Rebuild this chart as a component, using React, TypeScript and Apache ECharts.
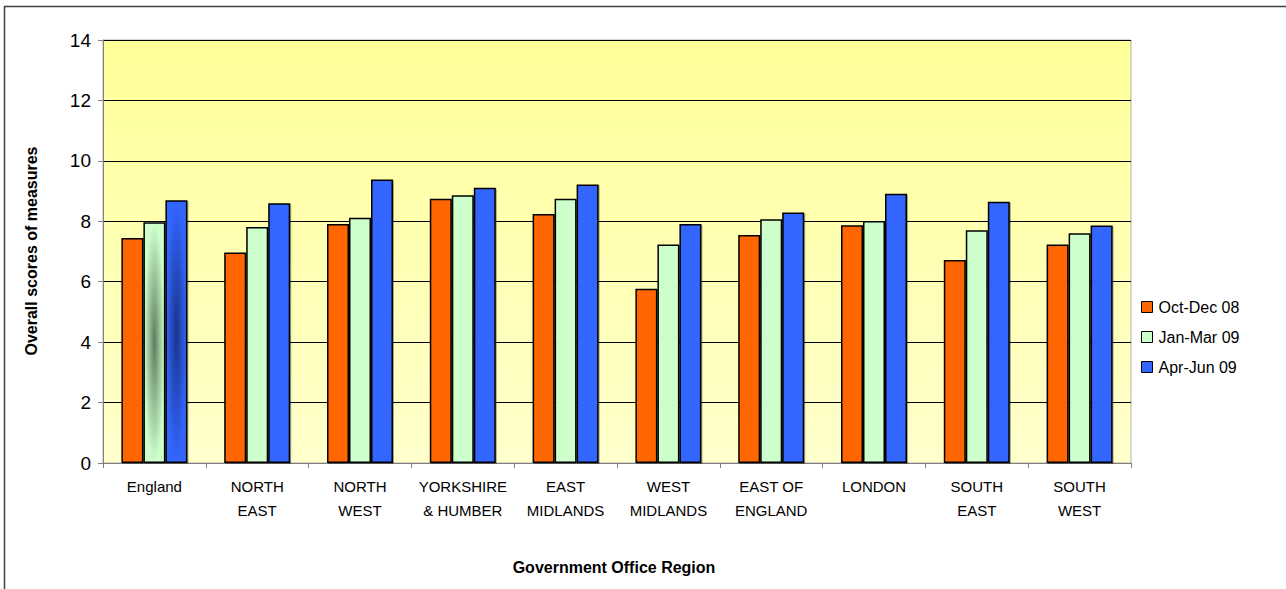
import React, { useEffect, useRef } from "react";
import * as echarts from "echarts";

const categories = [
  "England",
  "NORTH\nEAST",
  "NORTH\nWEST",
  "YORKSHIRE\n& HUMBER",
  "EAST\nMIDLANDS",
  "WEST\nMIDLANDS",
  "EAST OF\nENGLAND",
  "LONDON",
  "SOUTH\nEAST",
  "SOUTH\nWEST",
];
const seriesNames = ["Oct-Dec 08", "Jan-Mar 09", "Apr-Jun 09"];
const octDec08 = [7.45, 6.97, 7.91, 8.75, 8.24, 5.77, 7.55, 7.87, 6.72, 7.23];
const janMar09 = [7.97, 7.81, 8.12, 8.86, 8.75, 7.23, 8.07, 8.01, 7.7, 7.6];
const aprJun09 = [8.7, 8.6, 9.38, 9.11, 9.22, 7.91, 8.29, 8.91, 8.65, 7.86];
const yTicks = { min: 0, max: 14, interval: 2 };
const colors = ["#FF6600", "#CCFFCC", "#3366FF"];
const shadeCenters = [null, "#5f7a5f", "#1a3488"];

export default function App() {
  const ref = useRef<HTMLDivElement>(null);
  useEffect(() => {
    if (!ref.current) return;
    const chart = echarts.init(ref.current, null, { renderer: "svg" });
    const font = "'Liberation Sans', Arial, sans-serif";
    const allData = [octDec08, janMar09, aprJun09];
    const series = allData.map((vals, si) => ({
      name: seriesNames[si],
      type: "bar",
      barWidth: 22,
      barGap: "0%",
      data: vals.map((v, i) => {
        if (i === 0 && shadeCenters[si]) {
          return {
            value: v,
            itemStyle: {
              color: new echarts.graphic.RadialGradient(0.5, 0.5, 0.5, [
                { offset: 0, color: shadeCenters[si] as string },
                { offset: 1, color: colors[si] },
              ]),
            },
          };
        }
        return v;
      }),
      itemStyle: {
        color: colors[si],
        borderColor: "#000",
        borderWidth: 1.5,
        shadowColor: "rgba(0,0,0,0.35)",
        shadowOffsetX: 1,
        shadowOffsetY: 1,
        shadowBlur: 1,
      },
    }));
    chart.setOption({
      animation: false,
      backgroundColor: "#fff",
      textStyle: { fontFamily: font },
      grid: {
        left: 103,
        right: 155,
        top: 40,
        bottom: 126,
        show: true,
        borderColor: "#b0b0b0",
        borderWidth: 1,
        backgroundColor: new echarts.graphic.LinearGradient(0, 0, 0, 1, [
          { offset: 0, color: "#FFFF99" },
          { offset: 1, color: "#FFFFCC" },
        ]),
      },
      legend: {
        orient: "vertical",
        left: 1136,
        top: 294,
        itemWidth: 11,
        itemHeight: 11,
        itemGap: 14,
        icon: "rect",
        data: seriesNames.map((n, i) => ({
          name: n,
          itemStyle: { color: colors[i], borderColor: "#000", borderWidth: 1, shadowBlur: 0, shadowOffsetX: 0, shadowOffsetY: 0 },
        })),
        textStyle: { fontSize: 16, color: "#000", fontFamily: font, padding: [0, 0, 0, 1] },
      },
      xAxis: {
        type: "category",
        data: categories,
        axisLine: { lineStyle: { color: "#808080", width: 1 } },
        axisTick: { show: true, length: 5, lineStyle: { color: "#808080" } },
        axisLabel: {
          color: "#000",
          fontSize: 15,
          lineHeight: 24,
          margin: 11,
          fontFamily: font,
          interval: 0,
        },
      },
      yAxis: {
        type: "value",
        min: yTicks.min,
        max: yTicks.max,
        interval: yTicks.interval,
        axisLine: { show: true, lineStyle: { color: "#808080" } },
        axisTick: { show: true, length: 5, lineStyle: { color: "#808080" } },
        axisLabel: { color: "#000", fontSize: 19, margin: 12, fontFamily: font },
        splitLine: { lineStyle: { color: "#000", width: 1 } },
      },
      graphic: [
        {
          type: "rect",
          shape: { x: 4.5, y: 6.5, width: 1400, height: 800 },
          style: { fill: "none", stroke: "#404040", lineWidth: 1.5 },
          z: 100,
        },
        {
          type: "text",
          x: 31,
          y: 251,
          rotation: Math.PI / 2,
          style: {
            text: "Overall scores of measures",
            font: `bold 16px ${font}`,
            fill: "#000",
            textAlign: "center",
            textVerticalAlign: "middle",
          },
        },
        {
          type: "text",
          x: 614,
          y: 567,
          style: {
            text: "Government Office Region",
            font: `bold 16px ${font}`,
            fill: "#000",
            textAlign: "center",
            textVerticalAlign: "middle",
          },
        },
      ],
      series,
    });
    return () => chart.dispose();
  }, []);
  return (
    <div
      ref={ref}
      style={{ position: "fixed", left: 0, top: 0, width: 1286, height: 589 }}
    />
  );
}
